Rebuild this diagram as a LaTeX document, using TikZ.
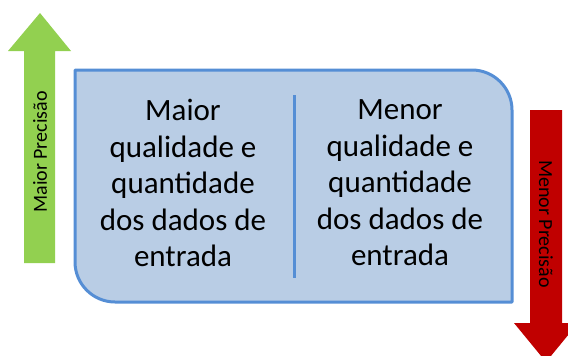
\documentclass[tikz,border=0pt]{standalone}
\usepackage{fontspec}
\setmainfont{Carlito}
\definecolor{boxfill}{HTML}{B9CDE5}
\definecolor{boxline}{HTML}{558ED5}
\definecolor{upgreen}{HTML}{92D050}
\definecolor{downred}{HTML}{C00000}
\begin{document}
\begin{tikzpicture}[x=1pt,y=-1pt,
  maintext/.style={align=center,font=\fontsize{31}{36.5}\selectfont,text=black},
  sidetext/.style={font=\fontsize{20}{24}\selectfont,text=black}]
\useasboundingbox (0,0) rectangle (568,356);
% green up arrow
\fill[upgreen] (40,13) -- (71,51) -- (55,51) -- (55,263) -- (24,263) -- (24,51) -- (8,51) -- cycle;
\node[sidetext,rotate=90] (up) at (40,152) {Maior Precisão};
% red down arrow
\fill[downred] (530,110) -- (562,110) -- (562,323) -- (578,323) -- (546,362) -- (514,323) -- (530,323) -- cycle;
\node[sidetext,rotate=-90] (down) at (546,224) {Menor Precisão};
% main box
\draw[boxline,line width=3pt,fill=boxfill,line join=round]
  (75,70) -- (472,70) .. controls (494,70) and (512,88) .. (512,110)
  -- (512,302) -- (115,302) .. controls (93,302) and (75,284) .. (75,262) -- cycle;
\draw[boxline,line width=3pt] (294,95) -- (294,278);
\node[maintext] (left) at (183,183) {Maior\\qualidade e\\quantidade\\dos dados de\\entrada};
\node[maintext] (right) at (400,183) {Menor\\qualidade e\\quantidade\\dos dados de\\entrada};
\end{tikzpicture}
\end{document}
